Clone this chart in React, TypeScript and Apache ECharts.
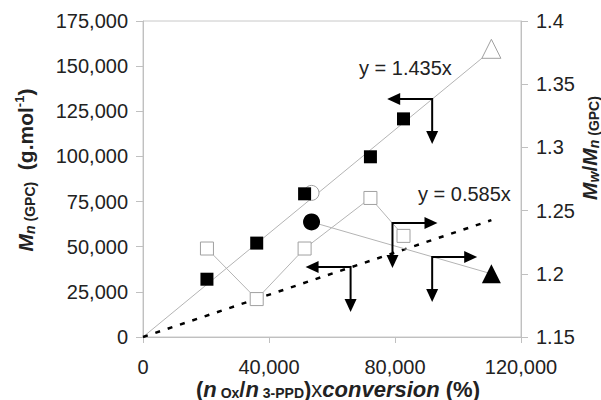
import React, { useEffect, useRef } from "react";
import * as echarts from "echarts";

// ---- data ----
const conversion = [20300, 36100, 51300, 72200, 82700]; // (nOx/n3-PPD) x conversion
const mnGPC = [32000, 52000, 79300, 99800, 120800]; // filled squares, left axis
const dispersity = [1.22, 1.18, 1.22, 1.26, 1.23]; // open squares, right axis

const circleX = 53500;
const triangleX = 110600;
const mnCircle = 79800; // open circle (left axis)
const mnTriangle = 159600; // open triangle (left axis)
const dispCircle = 1.241; // filled circle (right axis)
const dispTriangle = 1.2; // filled triangle (right axis)

// fitted lines (end points)
const fitHigh = [
  [0, 0],
  [110600, 158700],
];
const fitLow = [
  [0, 0],
  [110600, 64700],
];

// arrow corners [x, Mn, direction (-1 left, +1 right)]
const arrows = [
  [91800, 131800, -1],
  [65900, 38800, -1],
  [79200, 63100, 1],
  [91800, 44300, 1],
];

const xTicks = { min: 0, max: 120000, interval: 40000 };
const yLeft = { min: 0, max: 175000, interval: 25000 };
const yRight = { min: 1.15, max: 1.4, interval: 0.05 };

const FONT = '"Liberation Sans", Arial, Helvetica, sans-serif';
const GRAY = "#b4b4b4";
const TXT = "#222";

const addCommas = (v: number) =>
  String(Math.round(v)).replace(/\B(?=(\d{3})+(?!\d))/g, ",");

function rs(size: number, opts: any = {}) {
  return {
    fontFamily: FONT,
    fontSize: size,
    fontWeight: "bold",
    fill: TXT,
    ...opts,
  };
}

function makeRich(f: number, lh: number) {
  const sf = Math.round(f * 0.65);
  return {
    mi: rs(f, { fontStyle: "italic", lineHeight: lh }),
    b: rs(f, { lineHeight: lh }),
    n: rs(f, { fontWeight: "normal", lineHeight: lh }),
    subi: rs(sf, { fontStyle: "italic", lineHeight: sf, verticalAlign: "bottom" }),
    sub: rs(sf, { lineHeight: sf, verticalAlign: "bottom" }),
    s: rs(sf, { lineHeight: sf + 1, verticalAlign: "bottom" }),
    sup: rs(sf - 1, { lineHeight: sf - 1, verticalAlign: "top" }),
  };
}

export default function App() {
  const ref = useRef<HTMLDivElement>(null);
  useEffect(() => {
    if (!ref.current) return;
    const chart = echarts.init(ref.current, undefined, { renderer: "svg" });

    const L = 45;
    const head = 13;
    const hw = 6;

    const yRich = makeRich(21, 24);
    const xRich = makeRich(22, 21);

    chart.setOption({
      animation: false,
      grid: {
        left: 143,
        right: 80,
        top: 21,
        bottom: 63,
        show: true,
        borderColor: "#c8c8c8",
        borderWidth: 1,
      },
      xAxis: {
        type: "value",
        ...xTicks,
        axisLine: { lineStyle: { color: "#c0c0c0" } },
        axisTick: { show: true, length: 6, lineStyle: { color: "#c0c0c0" } },
        splitLine: { show: false },
        axisLabel: {
          fontSize: 20,
          fontFamily: FONT,
          color: TXT,
          margin: 20,
          lineHeight: 20,
          formatter: (v: number) => addCommas(v),
        },
      },
      yAxis: [
        {
          type: "value",
          ...yLeft,
          axisLine: { show: true, lineStyle: { color: "#c0c0c0" } },
          axisTick: { show: true, length: 7, lineStyle: { color: "#c0c0c0" } },
          splitLine: { show: false },
          axisLabel: {
            fontSize: 20,
            fontFamily: FONT,
            color: TXT,
            margin: 15,
            formatter: (v: number) => addCommas(v),
          },
        },
        {
          type: "value",
          position: "right",
          ...yRight,
          axisLine: { show: true, lineStyle: { color: "#c0c0c0" } },
          axisTick: { show: true, length: 7, lineStyle: { color: "#c0c0c0" } },
          splitLine: { show: false },
          axisLabel: {
            fontSize: 20,
            fontFamily: FONT,
            color: TXT,
            margin: 15,
            formatter: (v: number) => String(Math.round(v * 100) / 100),
          },
        },
      ],
      graphic: [
        {
          type: "text",
          x: 25,
          y: 170,
          rotation: Math.PI / 2,
          style: {
            text: "{mi|M}{subi|n}{s| (GPC)}{b|  (g.mol}{sup|-1}{b|)}",
            rich: yRich,
            align: "center",
            verticalAlign: "middle",
            fill: TXT,
          },
        },
        {
          type: "text",
          x: 589,
          y: 148,
          rotation: Math.PI / 2,
          style: {
            text: "{mi|M}{subi|w}{b|/}{mi|M}{subi|n}{s| (GPC)}",
            rich: yRich,
            align: "center",
            verticalAlign: "middle",
            fill: TXT,
          },
        },
        {
          type: "text",
          x: 338,
          y: 389,
          style: {
            text: "{b|(}{mi|n}{sub| Ox}{b|/}{mi|n}{sub| 3-PPD}{b|)}{n|x}{mi|conversion}{b| (%)}",
            rich: xRich,
            align: "center",
            verticalAlign: "middle",
            fill: TXT,
          },
        },
        {
          type: "text",
          x: 359,
          y: 68,
          style: {
            text: "y = 1.435x",
            fontFamily: FONT,
            fontSize: 20,
            fill: TXT,
            align: "left",
            verticalAlign: "middle",
          },
        },
        {
          type: "text",
          x: 418,
          y: 194,
          style: {
            text: "y = 0.585x",
            fontFamily: FONT,
            fontSize: 20,
            fill: TXT,
            align: "left",
            verticalAlign: "middle",
          },
        },
      ],
      series: [
        {
          type: "line",
          data: fitHigh,
          showSymbol: false,
          symbol: "none",
          lineStyle: { color: GRAY, width: 1 },
          z: 1,
        },
        {
          type: "line",
          data: fitLow,
          showSymbol: false,
          symbol: "none",
          lineStyle: { color: "#000", width: 2.5, type: [5, 8] },
          z: 1,
        },
        {
          type: "scatter",
          data: [
            { value: [circleX, mnCircle], symbol: "circle", symbolSize: 15 },
            { value: [triangleX, mnTriangle], symbol: "triangle", symbolSize: 19 },
          ],
          itemStyle: { color: "#fff", borderColor: "#a0a0a0", borderWidth: 1, opacity: 1 },
          z: 2,
        },
        {
          type: "scatter",
          data: conversion.map((x, i) => [x, mnGPC[i]]),
          symbol: "rect",
          symbolSize: 13,
          itemStyle: { color: "#000", opacity: 1 },
          z: 3,
        },
        {
          type: "line",
          yAxisIndex: 1,
          data: conversion.map((x, i) => [x, dispersity[i]]),
          symbol: "rect",
          symbolSize: 13,
          showSymbol: true,
          lineStyle: { color: GRAY, width: 1 },
          itemStyle: { color: "#fff", borderColor: "#a0a0a0", borderWidth: 1 },
          z: 2,
        },
        {
          type: "line",
          yAxisIndex: 1,
          data: [
            { value: [circleX, dispCircle], symbol: "circle", symbolSize: 17 },
            { value: [triangleX, dispTriangle], symbol: "triangle", symbolSize: 19 },
          ],
          showSymbol: true,
          lineStyle: { color: GRAY, width: 1 },
          itemStyle: { color: "#000" },
          z: 3,
        },
        {
          type: "custom",
          coordinateSystem: "cartesian2d",
          yAxisIndex: 0,
          data: arrows,
          z: 4,
          renderItem: (params: any, api: any) => {
            const p = api.coord([api.value(0), api.value(1)]);
            const d = api.value(2);
            const cx = p[0];
            const cy = p[1];
            const st = { stroke: "#000", lineWidth: 2 };
            return {
              type: "group",
              children: [
                {
                  type: "line",
                  shape: { x1: cx, y1: cy, x2: cx + d * (L - head + 1), y2: cy },
                  style: st,
                },
                {
                  type: "polygon",
                  shape: {
                    points: [
                      [cx + d * L, cy],
                      [cx + d * (L - head), cy - hw],
                      [cx + d * (L - head), cy + hw],
                    ],
                  },
                  style: { fill: "#000" },
                },
                {
                  type: "line",
                  shape: { x1: cx, y1: cy - 1, x2: cx, y2: cy + L - head + 1 },
                  style: st,
                },
                {
                  type: "polygon",
                  shape: {
                    points: [
                      [cx, cy + L],
                      [cx - hw, cy + L - head],
                      [cx + hw, cy + L - head],
                    ],
                  },
                  style: { fill: "#000" },
                },
              ],
            };
          },
        },
      ],
    });
    return () => chart.dispose();
  }, []);
  return (
    <div
      ref={ref}
      style={{ position: "absolute", left: 0, top: 0, width: 601, height: 400 }}
    />
  );
}
